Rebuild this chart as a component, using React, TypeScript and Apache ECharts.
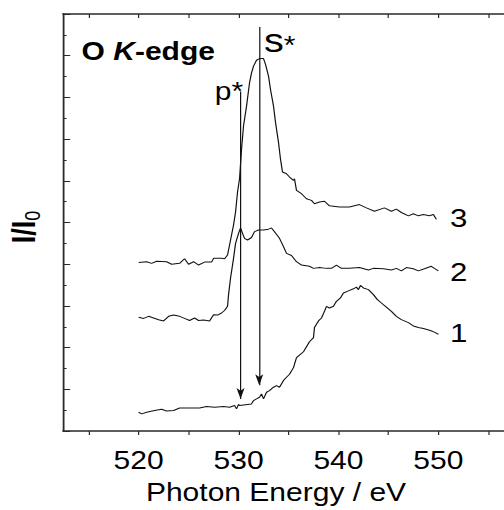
import { useEffect, useRef } from 'react';
import * as echarts from 'echarts';

// Curve 1 (bottom)
const energy1 = [520.0, 520.3, 520.8, 521.6, 522.3, 522.8, 523.5, 524.1, 525.1, 526.1, 526.8, 527.6, 528.5, 529.1, 529.6, 529.8, 530.0, 530.1, 531.3, 531.5, 531.8, 532.1, 532.3, 532.5, 532.8, 533.1, 533.5, 533.8, 534.1, 534.5, 534.8, 535.1, 535.5, 535.8, 536.1, 536.5, 536.8, 537.1, 537.5, 537.6, 538.0, 538.3, 538.6, 538.8, 539.1, 539.5, 539.8, 540.2, 540.5, 541.0, 541.5, 541.8, 542.0, 542.2, 542.5, 543.0, 543.5, 543.9, 544.3, 544.8, 545.3, 545.8, 546.3, 547.0, 547.5, 548.0, 548.5, 549.2, 549.7, 550.0];
const signal1 = [0.45, 0.41, 0.45, 0.49, 0.52, 0.48, 0.49, 0.55, 0.55, 0.55, 0.59, 0.57, 0.59, 0.57, 0.61, 0.53, 0.64, 0.61, 0.65, 0.73, 0.77, 0.81, 0.89, 0.77, 0.93, 0.97, 1.05, 1.09, 1.05, 1.21, 1.29, 1.36, 1.52, 1.76, 1.82, 1.90, 2.02, 2.14, 2.24, 2.48, 2.64, 2.71, 2.87, 2.99, 2.95, 2.99, 3.11, 3.19, 3.31, 3.36, 3.41, 3.45, 3.39, 3.49, 3.43, 3.39, 3.27, 3.15, 3.07, 2.97, 2.87, 2.75, 2.67, 2.60, 2.52, 2.48, 2.46, 2.41, 2.36, 2.32];

// Curve 2 (middle)
const energy2 = [520.0, 520.5, 521.0, 521.5, 522.0, 522.5, 523.0, 523.5, 524.1, 524.6, 525.1, 525.6, 526.0, 526.5, 527.1, 527.5, 527.9, 528.3, 528.6, 528.9, 529.0, 529.2, 529.5, 529.7, 530.0, 530.2, 530.4, 530.6, 530.9, 531.3, 531.6, 532.0, 532.5, 533.0, 533.3, 533.6, 534.1, 534.5, 534.8, 535.3, 535.8, 536.3, 537.1, 537.5, 538.1, 538.8, 539.3, 539.8, 540.3, 541.1, 542.1, 543.0, 543.5, 544.5, 545.3, 545.8, 546.3, 546.8, 547.5, 548.0, 548.6, 549.3, 549.6, 550.0];
const signal2 = [2.73, 2.70, 2.75, 2.71, 2.67, 2.64, 2.75, 2.78, 2.75, 2.70, 2.65, 2.71, 2.65, 2.66, 2.64, 2.79, 2.78, 2.83, 2.89, 2.99, 3.27, 3.67, 4.14, 4.50, 4.74, 4.87, 4.74, 4.62, 4.58, 4.64, 4.78, 4.82, 4.82, 4.84, 4.87, 4.78, 4.62, 4.42, 4.26, 4.21, 4.06, 3.98, 3.95, 3.90, 3.92, 3.90, 3.90, 3.98, 3.90, 3.90, 3.92, 3.86, 3.90, 3.89, 3.86, 3.90, 3.84, 3.92, 3.89, 3.84, 3.89, 3.95, 3.90, 3.84];

// Curve 3 (top)
const energy3 = [520.0, 520.8, 521.3, 521.8, 522.8, 523.3, 524.1, 524.6, 525.0, 525.5, 526.0, 526.6, 527.3, 527.5, 528.3, 528.6, 528.9, 529.1, 529.5, 529.7, 529.9, 530.1, 530.3, 530.5, 530.8, 531.1, 531.3, 531.5, 531.8, 532.1, 532.5, 532.7, 533.0, 533.2, 533.5, 533.7, 534.0, 534.2, 534.4, 534.8, 535.1, 535.5, 535.6, 535.8, 536.3, 536.8, 537.3, 537.6, 538.1, 538.6, 539.1, 540.1, 541.1, 542.1, 542.8, 543.6, 544.6, 545.3, 545.8, 546.3, 547.0, 547.5, 548.0, 548.5, 549.1, 549.5, 549.8];
const signal3 = [4.04, 4.06, 4.02, 4.07, 4.06, 4.00, 4.02, 4.13, 4.00, 4.06, 3.98, 4.05, 4.05, 4.14, 4.14, 4.13, 4.22, 4.46, 4.94, 5.25, 5.73, 6.05, 6.76, 7.32, 7.79, 8.35, 8.59, 8.75, 8.89, 8.93, 8.93, 8.79, 8.51, 8.19, 7.79, 7.40, 6.92, 6.52, 6.21, 6.17, 6.09, 6.01, 6.05, 5.77, 5.69, 5.57, 5.53, 5.45, 5.49, 5.51, 5.40, 5.37, 5.37, 5.43, 5.35, 5.27, 5.35, 5.27, 5.32, 5.24, 5.16, 5.21, 5.16, 5.19, 5.16, 5.19, 5.08];

const tickEnergies = [515, 520, 525, 530, 535, 540, 545, 550, 555];
const labelEnergies = [520, 530, 540, 550];
const curveNames = ['1', '2', '3'];
const arrowNames = ['p*', 's*'];
const arrowEnergies = [530.2, 532.07];
const arrowTops = [8.14, 9.69];
const arrowTips = [0.77, 1.095];

const FONT = '"Liberation Sans", Arial, Helvetica, sans-serif';
const INK = '#111';
const FRAME = '#2a2a2a';

export default function App() {
  const ref = useRef<HTMLDivElement>(null);
  useEffect(() => {
    if (!ref.current) return;
    const chart = echarts.init(ref.current, null, { renderer: 'svg' });
    const curves = [
      [energy1, signal1],
      [energy2, signal2],
      [energy3, signal3],
    ];
    const series: any[] = curves.map((c, i) => ({
      type: 'line',
      name: curveNames[i],
      data: (c[0] as number[]).map((e, j) => [e, (c[1] as number[])[j]]),
      showSymbol: false,
      symbol: 'none',
      lineStyle: { color: INK, width: 1 },
      silent: true,
    }));
    series.push({
      type: 'line',
      data: [],
      silent: true,
      markLine: {
        silent: true,
        symbol: ['none', 'arrow'],
        symbolSize: [5, 11],
        label: { show: false },
        lineStyle: { color: INK, width: 1, type: 'solid' },
        emphasis: { disabled: true },
        data: arrowEnergies.map((e, i) => [
          { coord: [e, arrowTops[i]] },
          { coord: [e, arrowTips[i]] },
        ]),
      },
    });
    const axisCommon = {
      type: 'value',
      min: 512.43,
      max: 556.57,
      splitLine: { show: false },
      axisLine: { show: true, onZero: false, lineStyle: { color: FRAME, width: 1.5 } },
    };
    chart.setOption({
      animation: false,
      grid: { left: 52.5, right: 0, top: 14, bottom: 76 },
      xAxis: [
        {
          ...axisCommon,
          position: 'bottom',
          axisTick: { show: true, inside: false, length: 4, customValues: tickEnergies, lineStyle: { color: FRAME, width: 1 } },
          axisLabel: { show: true, customValues: labelEnergies, margin: 17, fontSize: 25, color: '#000', fontFamily: FONT },
          name: 'Photon Energy / eV',
          nameLocation: 'middle',
          nameGap: 49,
          nameTextStyle: { fontSize: 25, color: '#000', fontFamily: FONT, padding: [0, 12.5, 0, 0] },
        },
        {
          ...axisCommon,
          position: 'top',
          axisTick: { show: true, inside: true, length: 4, customValues: tickEnergies, lineStyle: { color: FRAME, width: 1 } },
          axisLabel: { show: false },
        },
      ],
      yAxis: {
        type: 'value',
        min: 0,
        max: 10,
        interval: 1,
        axisLine: { show: true, lineStyle: { color: FRAME, width: 1.5 } },
        axisTick: { show: true, inside: true, length: 6, lineStyle: { color: FRAME, width: 1 } },
        minorTick: { show: true, splitNumber: 2, length: 3, lineStyle: { color: FRAME, width: 1 } },
        axisLabel: { show: false },
        splitLine: { show: false },
        minorSplitLine: { show: false },
      },
      graphic: [
        {
          type: 'text',
          x: 68,
          y: 51.3,
          silent: true,
          style: {
            text: '{b|O }{bi|K}{b|-edge}',
            verticalAlign: 'middle',
            rich: {
              b: { fontSize: 25, fontWeight: 'bold', fontFamily: FONT, fill: '#000' },
              bi: { fontSize: 25, fontWeight: 'bold', fontStyle: 'italic', fontFamily: FONT, fill: '#000' },
            },
          },
        },
        {
          type: 'text',
          x: 179,
          y: 91.3,
          silent: true,
          style: { text: arrowNames[0], fontSize: 25, fontFamily: FONT, fill: '#000', verticalAlign: 'middle' },
        },
        {
          type: 'text',
          x: 220,
          y: 41,
          silent: true,
          style: {
            text: '{s|s}{a|*}',
            verticalAlign: 'middle',
            rich: {
              s: { fontSize: 33, fontFamily: FONT, fill: '#000', verticalAlign: 'bottom' },
              a: { fontSize: 25, fontFamily: FONT, fill: '#000', verticalAlign: 'bottom' },
            },
          },
        },
        ...[342, 281, 227].map((b, i) => ({
          type: 'text',
          x: 375,
          y: b - 9,
          silent: true,
          style: { text: curveNames[i], fontSize: 26, fontFamily: FONT, fill: '#000', verticalAlign: 'middle' },
        })),
        {
          type: 'text',
          x: 21,
          y: 227,
          rotation: Math.PI / 2,
          silent: true,
          style: {
            text: '{a|I/I}{b|0}',
            align: 'center',
            verticalAlign: 'middle',
            rich: {
              a: { fontSize: 27, fontWeight: 'bold', fontFamily: FONT, fill: '#000', lineHeight: 30, verticalAlign: 'top' },
              b: { fontSize: 18, fontFamily: FONT, fill: '#000', lineHeight: 18, verticalAlign: 'bottom' },
            },
          },
        },
      ],
      series,
    });
    return () => chart.dispose();
  }, []);
  return (
    <div
      style={{
        position: 'absolute',
        left: 0,
        top: 0,
        width: 420,
        height: 510,
        transform: 'scaleX(1.2)',
        transformOrigin: '0 0',
        background: '#fff',
      }}
    >
      <div ref={ref} style={{ width: 420, height: 510 }} />
    </div>
  );
}
